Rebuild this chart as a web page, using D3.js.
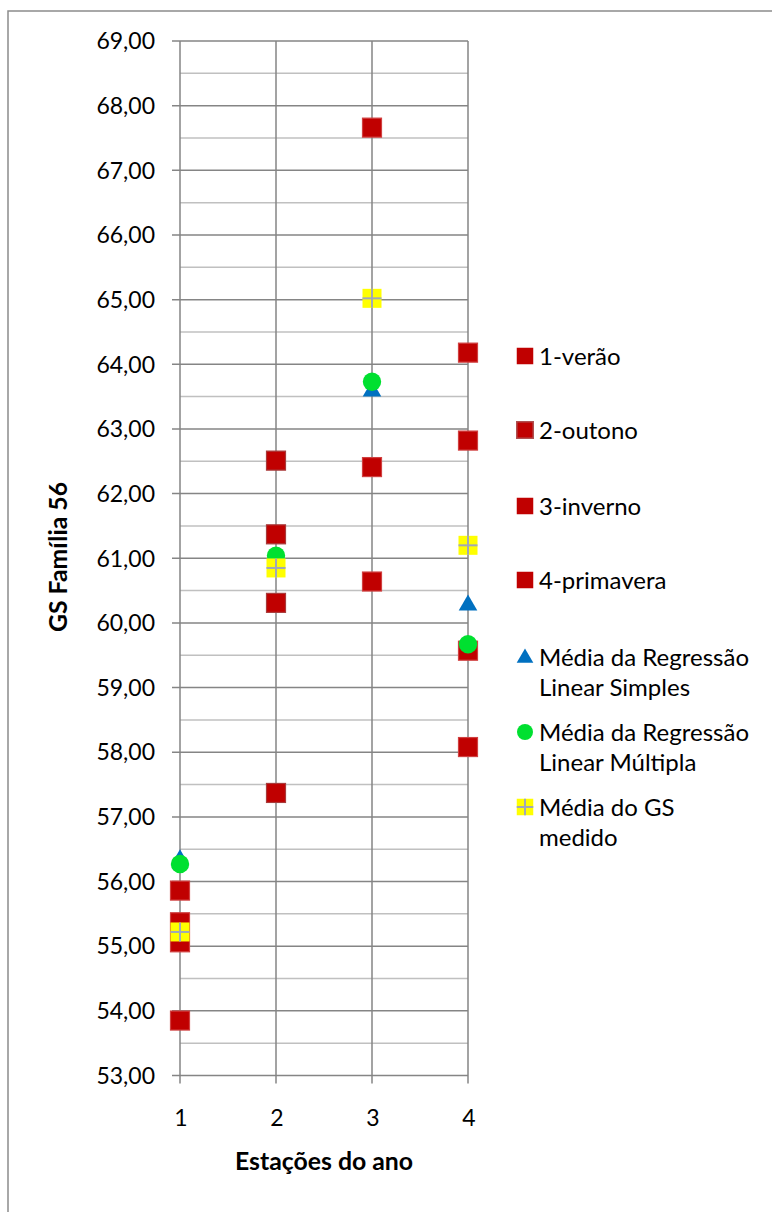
<!DOCTYPE html>
<html><head><meta charset="utf-8">
<script src="https://cdn.jsdelivr.net/npm/d3@7"></script>
<style>
body{margin:0;background:#fff;}
text{font-family:Lato, "Open Sans", sans-serif;fill:#000;}
</style></head>
<body><svg id="c" width="772" height="1212"></svg>
<script>
// ---- data ----
const xTicks = [1, 2, 3, 4];
const yTicks = [53,54,55,56,57,58,59,60,61,62,63,64,65,66,67,68,69];
const veraoX = [1, 1, 1, 1];
const veraoY = [55.86, 55.37, 55.06, 53.85];
const outonoX = [2, 2, 2, 2];
const outonoY = [62.51, 61.37, 60.31, 57.37];
const invernoX = [3, 3, 3];
const invernoY = [67.66, 62.41, 60.64];
const primaveraX = [4, 4, 4, 4];
const primaveraY = [64.18, 62.82, 59.57, 58.08];
const mediaX = [1, 2, 3, 4];
const regSimplesY = [56.35, 60.95, 63.60, 60.29];
const regMultiplaY = [56.27, 61.04, 63.73, 59.67];
const gsMedidoY = [55.22, 60.85, 65.02, 61.20];
const legendLabels = [["1-verão"],["2-outono"],["3-inverno"],["4-primavera"],
  ["Média da Regressão","Linear Simples"],["Média da Regressão","Linear Múltipla"],["Média do GS","medido"]];
const xTitle = "Estações do ano";
const yTitle = "GS Família 56";

const svg = d3.select("#c");
svg.append("rect").attr("width",772).attr("height",1212).attr("fill","#fff");
svg.append("rect").attr("x",8).attr("y",11).attr("width",900).attr("height",1400)
  .attr("fill","none").attr("stroke","#8c8c8c").attr("stroke-width",1.5);

const x = d3.scaleLinear().domain([1,4]).range([180,468]);
const y = d3.scaleLinear().domain([53,69]).range([1075.5,41]);
const MAJ = "#858585", MIN = "#c0c0c0";
const g = svg.append("g");

// minor gridlines
const minor = d3.range(53.5, 69, 1);
g.selectAll(".mn").data(minor).join("line")
  .attr("x1",x(1)).attr("x2",x(4)).attr("y1",d=>y(d)).attr("y2",d=>y(d))
  .attr("stroke",MIN).attr("stroke-width",1.5);
// major gridlines with ticks
g.selectAll(".mj").data(yTicks).join("line")
  .attr("x1",x(1)-8).attr("x2",x(4)).attr("y1",d=>y(d)).attr("y2",d=>y(d))
  .attr("stroke",MAJ).attr("stroke-width",1.5);
// vertical lines
g.selectAll(".vl").data(xTicks).join("line")
  .attr("x1",d=>x(d)).attr("x2",d=>x(d)).attr("y1",y(69)).attr("y2",y(53)+8)
  .attr("stroke",MAJ).attr("stroke-width",1.5);

// tick labels
const fmt = d => d.toFixed(2).replace(".", ",");
g.selectAll(".yl").data(yTicks).join("text")
  .attr("x",155).attr("y",d=>y(d)).attr("dy","0.36em").attr("text-anchor","end")
  .attr("font-size",23).text(fmt);
g.selectAll(".xl").data(xTicks).join("text")
  .attr("x",d=>x(d)+1).attr("y",1126).attr("text-anchor","middle")
  .attr("font-size",23).text(d=>d);

svg.append("text").attr("x",324).attr("y",1170).attr("text-anchor","middle")
  .attr("font-size",24.8).attr("font-weight","bold").text(xTitle);
svg.append("text").attr("transform","translate(67,557) rotate(-90)").attr("text-anchor","middle")
  .attr("font-size",24.8).attr("font-weight","bold").text(yTitle);

// markers
const S = 19;
function squares(xs, ys, stroke){
  g.append("g").selectAll("rect").data(ys).join("rect")
    .attr("x",(d,i)=>x(xs[i])-S/2).attr("y",d=>y(d)-S/2).attr("width",S).attr("height",S)
    .attr("fill","#c00000").attr("stroke",stroke).attr("stroke-width",1.2);
}
squares(veraoX, veraoY, "#d04040");
squares(outonoX, outonoY, "#a83a3a");
squares(invernoX, invernoY, "#d04040");
squares(primaveraX, primaveraY, "#d04040");

const tri = d3.symbol().type(d3.symbolTriangle).size(150);
g.append("g").selectAll("path").data(regSimplesY).join("path")
  .attr("transform",(d,i)=>`translate(${x(mediaX[i])},${y(d)+1})`)
  .attr("d",tri).attr("fill","#0070c0");
g.append("g").selectAll("circle").data(regMultiplaY).join("circle")
  .attr("cx",(d,i)=>x(mediaX[i])).attr("cy",d=>y(d)).attr("r",9.2).attr("fill","#00e030");
function plusMarker(sel, cx, cy, s){
  sel.append("rect").attr("x",cx-s/2).attr("y",cy-s/2).attr("width",s).attr("height",s).attr("fill","#ffff00");
  sel.append("line").attr("x1",cx-s/2).attr("x2",cx+s/2).attr("y1",cy).attr("y2",cy).attr("stroke","#a0a8b8").attr("stroke-width",2);
  sel.append("line").attr("x1",cx).attr("x2",cx).attr("y1",cy-s/2).attr("y2",cy+s/2).attr("stroke","#a0a8b8").attr("stroke-width",2);
}
const pg = g.append("g");
gsMedidoY.forEach((d,i)=>plusMarker(pg, x(mediaX[i]), y(d), S));

// legend
const legY = [356, 430, 506, 580, 657, 732, 807];
const lg = svg.append("g");
const LS = 16.5, lx = 525;
legendLabels.forEach((lab,i)=>{
  const cy = legY[i];
  if(i<4){
    lg.append("rect").attr("x",lx-LS/2).attr("y",cy-LS/2).attr("width",LS).attr("height",LS)
      .attr("fill","#c00000").attr("stroke", i===1?"#b05050":"none").attr("stroke-width",1.5);
  } else if(i===4){
    lg.append("path").attr("transform",`translate(${lx},${cy+1})`).attr("d",d3.symbol().type(d3.symbolTriangle).size(120)).attr("fill","#0070c0");
  } else if(i===5){
    lg.append("circle").attr("cx",lx).attr("cy",cy).attr("r",8).attr("fill","#00e030");
  } else {
    plusMarker(lg, lx, cy, LS);
  }
  lab.forEach((t,j)=>{
    lg.append("text").attr("x",539).attr("y",cy+j*30).attr("dy","0.36em")
      .attr("font-size",24).text(t);
  });
});
</script></body></html>
